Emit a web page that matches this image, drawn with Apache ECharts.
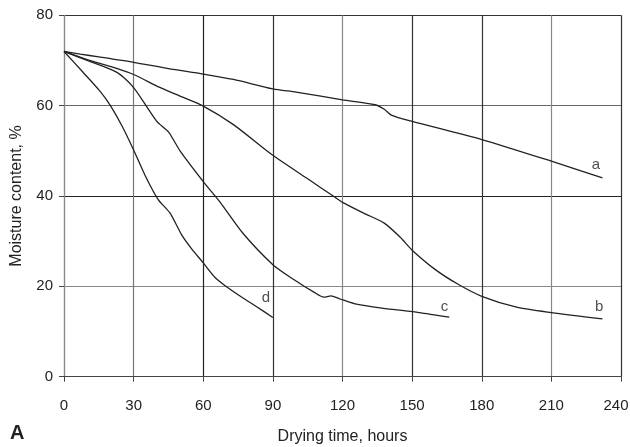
<!DOCTYPE html>
<html>
<head>
<meta charset="utf-8">
<script src="https://cdn.jsdelivr.net/npm/echarts@6/dist/echarts.min.js"></script>
<style>html,body{margin:0;padding:0;background:#fff}#c{width:630px;height:447px}</style>
</head>
<body>
<div id="c"></div>
<script>
// Drying time (hours), moisture content (%) for each curve
const curveA = [[0,72],[7,71.4],[15,70.8],[30,69.6],[45,68.2],[60,67.0],[73,65.8],[90,63.7],[100,63.0],[120,61.3],[134,60.2],[138,59.2],[141,57.9],[150,56.5],[180,52.5],[210,47.7],[232,44.0]];
const curveB = [[0,72],[10,70.2],[23,68.2],[30,66.9],[41,64.1],[50,62.1],[60,59.9],[73,55.8],[90,49.0],[105,43.8],[116,40.0],[120,38.6],[130,36.0],[138,34.0],[145,30.8],[150,28.0],[160,23.7],[170,20.4],[180,17.8],[195,15.4],[210,14.2],[232,12.8]];
const curveC = [[0,72],[10,70.0],[23,67.3],[30,64.0],[40,56.5],[45,54.2],[50,50.0],[60,43.2],[67,38.8],[77,31.8],[90,24.8],[99,21.5],[108,18.6],[112,17.6],[115,17.9],[119,17.2],[125,16.2],[137,15.2],[153,14.2],[166,13.2]];
const curveD = [[0,72],[8,67.5],[15.5,63.2],[20,60.0],[25,55.5],[30,50.2],[35,44.5],[40.6,39.2],[45.7,36.2],[50.7,31.4],[55,28.3],[60,25.2],[65,22.0],[69,20.3],[76,17.8],[83,15.5],[90,13.1]];
const curveLabels = [[229.2,46.8,'a'],[230.6,15.4,'b'],[163.9,15.4,'c'],[87,17.5,'d']];
const xTicks = [0,30,60,90,120,150,180,210,240];
const yTicks = [0,20,40,60,80];

const FONT = '"Liberation Sans", Arial, sans-serif';
const chart = echarts.init(document.getElementById('c'), null, {renderer:'canvas'});
const lineStyle = {color:'#222', width:1.3};
function curve(data){
  return {type:'line', data:data, smooth:0.25, symbol:'none', lineStyle:lineStyle, silent:true, z:3};
}
const xMax = xTicks[xTicks.length-1];
chart.setOption({
  animation:false,
  backgroundColor:'#fff',
  grid:{left:64, right:9, top:15.3, bottom:70.3, containLabel:false, outerBoundsMode:'none'},
  xAxis:{
    type:'value', min:xTicks[0], max:xMax, interval:30,
    name:'Drying time, hours', nameLocation:'middle', nameGap:52,
    nameTextStyle:{fontFamily:FONT, fontSize:16, color:'#222'},
    axisLine:{show:true, lineStyle:{color:'#444', width:1.2}},
    axisTick:{show:true, inside:false, length:5, lineStyle:{color:'#444'}},
    axisLabel:{fontFamily:FONT, fontSize:15, color:'#222', margin:22,
      formatter:v => v === xMax ? '{last|' + v + '}' : String(v),
      rich:{last:{fontFamily:FONT, fontSize:15, color:'#222', padding:[0,10,0,0]}}},
    splitLine:{show:true, lineStyle:{width:1.2, color:['#888','#777','#222','#333','#888','#333','#333','#888','#333']}}
  },
  yAxis:{
    type:'value', min:yTicks[0], max:yTicks[yTicks.length-1], interval:20,
    name:'Moisture content, %', nameLocation:'middle', nameGap:39.5, nameRotate:90,
    nameTextStyle:{fontFamily:FONT, fontSize:16, color:'#222'},
    axisLine:{show:true, lineStyle:{color:'#888', width:1.2}},
    axisTick:{show:true, inside:false, length:5, lineStyle:{color:'#444'}},
    axisLabel:{fontFamily:FONT, fontSize:15, color:'#222', margin:11},
    splitLine:{show:true, lineStyle:{width:1.2, color:['#444','#888','#222','#666','#333']}}
  },
  graphic:[{type:'text', left:10, top:423, style:{text:'A', font:'bold 20px "Liberation Sans", Arial, sans-serif', fill:'#222'}}],
  series:[
    curve(curveA), curve(curveB), curve(curveC), curve(curveD),
    {type:'scatter', data:curveLabels, symbolSize:0, silent:true, z:4,
     label:{show:true, position:'inside', formatter:p=>p.data[2], fontFamily:FONT, fontSize:15, color:'#222'}}
  ]
});
</script>
</body>
</html>
